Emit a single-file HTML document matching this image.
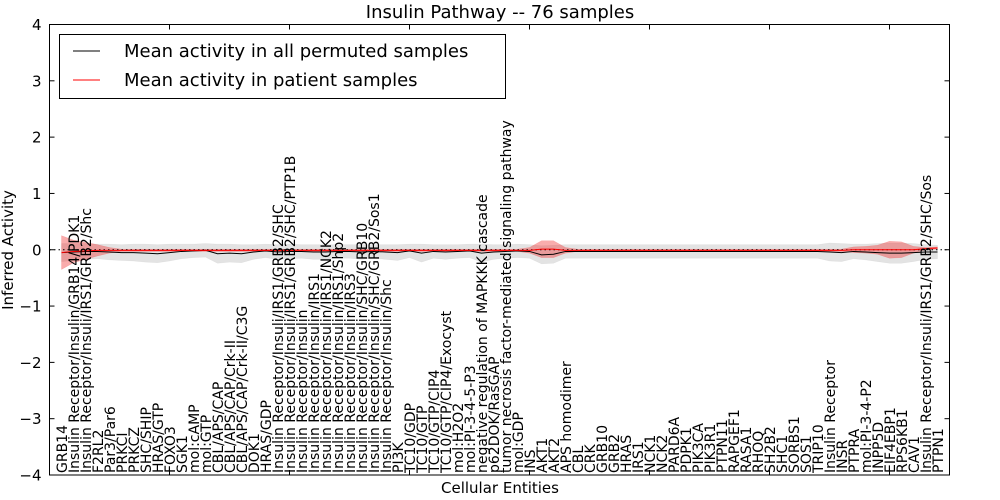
<!DOCTYPE html>
<html><head><meta charset="utf-8"><style>
body{margin:0;background:#fff}
svg{display:block;font-family:"DejaVu Sans","Liberation Sans",sans-serif}
</style></head><body>
<svg id="chart" width="1000" height="500" viewBox="0 0 1000 500">
<rect width="1000" height="500" fill="#fff"/>
<text x="500" y="18" text-anchor="middle" font-size="18">Insulin Pathway -- 76 samples</text>
<g id="bands"></g>
<g id="lines"></g>
<g id="labels"></g>
<g id="axes"></g>
<text x="500" y="493" text-anchor="middle" font-size="15">Cellular Entities</text>
<text transform="translate(13,250) rotate(-90)" text-anchor="middle" font-size="15">Inferred Activity</text>
<g>
<rect x="59.5" y="34.5" width="446" height="64" fill="#fff" stroke="#000" stroke-width="1"/>
<line x1="73" y1="51" x2="100" y2="51" stroke="#000"/>
<text x="124" y="57" font-size="18">Mean activity in all permuted samples</text>
<line x1="73" y1="80" x2="100" y2="80" stroke="#f00"/>
<text x="124" y="86" font-size="18">Mean activity in patient samples</text>
</g>
</svg>
<script>
const categories = ["GRB14","Insulin Receptor/Insulin/GRB14/PDK1","Insulin Receptor/Insuli/IRS1/GRB2/Shc","F2RL2","Par3/Par6","PRKCI","PRKCZ","SHC/SHIP","HRAS/GTP","FOXO3","SGK1","mol:cAMP","mol:GTP","CBL/APS/CAP","CBL/APS/CAP/Crk-II","CBL/APS/CAP/Crk-II/C3G","DOK1","HRAS/GDP","Insulin Receptor/Insuli/IRS1/GRB2/SHC","Insulin Receptor/Insuli/IRS1/GRB2/SHC/PTP1B","Insulin Receptor/Insulin","Insulin Receptor/Insulin/IRS1","Insulin Receptor/Insulin/IRS1/NCK2","Insulin Receptor/Insulin/IRS1/Shp2","Insulin Receptor/Insulin/IRS3","Insulin Receptor/Insulin/SHC/GRB10","Insulin Receptor/Insulin/SHC/GRB2/Sos1","Insulin Receptor/Insulin/Shc","PI3K","TC10/GDP","TC10/GTP","TC10/GTP/CIP4","TC10/GTP/CIP4/Exocyst","mol:H2O2","mol:PI-3-4-5-P3","negative regulation of MAPKKK cascade","p62DOK/RasGAP","tumor necrosis factor-mediated signaling pathway","mol:GDP","INS","AKT1","AKT2","APS homodimer","CBL","CRK","GRB10","GRB2","HRAS","IRS1","NCK1","NCK2","PARD6A","PDPK1","PIK3CA","PIK3R1","PTPN11","RAPGEF1","RASA1","RHOQ","SH2B2","SHC1","SORBS1","SOS1","TRIP10","Insulin Receptor","INSR","PTPRA","mol:PI-3-4-P2","INPP5D","EIF4EBP1","RPS6KB1","CAV1","Insulin Receptor/Insuli/IRS1/GRB2/SHC/Sos","PTPN1"];
const permMean = [-0.05,-0.04,-0.03,-0.03,-0.04,-0.05,-0.05,-0.06,-0.07,-0.05,-0.03,-0.02,-0.01,-0.07,-0.06,-0.07,-0.04,-0.02,-0.04,-0.03,-0.03,-0.04,-0.04,-0.03,-0.03,-0.04,-0.03,-0.04,-0.05,-0.02,-0.06,-0.03,-0.04,-0.03,-0.02,-0.06,-0.04,-0.03,-0.02,-0.03,-0.09,-0.08,-0.03,-0.03,-0.03,-0.03,-0.03,-0.03,-0.03,-0.03,-0.03,-0.03,-0.03,-0.03,-0.03,-0.03,-0.03,-0.03,-0.03,-0.03,-0.03,-0.03,-0.03,-0.03,-0.04,-0.05,-0.03,-0.04,-0.05,-0.06,-0.06,-0.05,-0.04,-0.04];
const permStd = [0.16,0.15,0.14,0.13,0.14,0.14,0.15,0.16,0.16,0.15,0.13,0.12,0.12,0.17,0.16,0.16,0.13,0.12,0.13,0.13,0.12,0.13,0.13,0.12,0.12,0.13,0.12,0.13,0.14,0.12,0.16,0.12,0.13,0.12,0.12,0.16,0.13,0.12,0.12,0.12,0.16,0.16,0.12,0.12,0.12,0.12,0.12,0.12,0.12,0.12,0.12,0.12,0.12,0.12,0.12,0.12,0.12,0.12,0.12,0.12,0.12,0.12,0.12,0.12,0.16,0.16,0.13,0.14,0.16,0.18,0.18,0.16,0.13,0.12];
const patMean = [-0.05,-0.03,-0.02,-0.01,-0.01,-0.01,-0.01,-0.01,-0.01,-0.01,-0.01,-0.01,-0.01,-0.01,-0.01,-0.01,-0.01,-0.01,-0.01,-0.01,-0.01,-0.01,-0.01,-0.01,-0.01,-0.01,-0.01,-0.01,-0.01,-0.01,-0.01,-0.01,-0.01,-0.01,-0.01,-0.01,-0.01,-0.01,-0.01,-0.01,0.01,0.01,-0.01,-0.01,-0.01,-0.01,-0.01,-0.01,-0.01,-0.01,-0.01,-0.01,-0.01,-0.01,-0.01,-0.01,-0.01,-0.01,-0.01,-0.01,-0.01,-0.01,-0.01,-0.01,-0.01,-0.01,0.0,0.0,0.0,0.0,0.0,0.0,0.02,0.03];
const patStd = [0.3,0.2,0.15,0.1,0.05,0.02,0.02,0.02,0.02,0.02,0.02,0.02,0.02,0.02,0.02,0.02,0.02,0.02,0.02,0.02,0.02,0.02,0.02,0.02,0.02,0.02,0.02,0.02,0.02,0.02,0.02,0.02,0.02,0.02,0.02,0.02,0.02,0.02,0.02,0.05,0.15,0.15,0.05,0.02,0.02,0.02,0.02,0.02,0.02,0.02,0.02,0.02,0.02,0.02,0.02,0.02,0.02,0.02,0.02,0.02,0.02,0.02,0.02,0.02,0.02,0.02,0.05,0.06,0.08,0.15,0.14,0.06,0.02,0.02];
const yTicks = [4,3,2,1,0,-1,-2,-3,-4];
const xTicks = [0,10,20,30,40,50,60,70];

const NS="http://www.w3.org/2000/svg";
const L=49.5,R=949.5,T=24.5,B=475;
const xs=v=>L+(v)*(R-L)/75;
const ys=v=>T+(4-v)*(B-T)/8;
function mk(tag,attrs,parent){const e=document.createElementNS(NS,tag);for(const k in attrs)e.setAttribute(k,attrs[k]);parent.appendChild(e);return e;}
const bands=document.getElementById('bands'),lines=document.getElementById('lines'),labels=document.getElementById('labels'),axes=document.getElementById('axes');
function band(mean,sd,fill,op,name){
  let up=mean.map((m,i)=>xs(i+1)+','+ys(m+sd[i]));
  let dn=mean.map((m,i)=>xs(i+1)+','+ys(m-sd[i])).reverse();
  const p=mk('polygon',{points:up.concat(dn).join(' '),fill:fill,'fill-opacity':op,stroke:fill,'stroke-opacity':op*0.6,'stroke-width':0.5},bands);
  
  
}
band(permMean,permStd,'#b0b0b0',0.35,'permuted-band');
band(patMean,patStd,'#f03030',0.4,'patient-band');
const z=mk('line',{x1:L,x2:R,y1:ys(0),y2:ys(0),stroke:'#000','stroke-dasharray':'1.5,3','stroke-width':1},lines);


function line(arr,color,name){
  const p=mk('polyline',{points:arr.map((m,i)=>xs(i+1)+','+ys(m)).join(' '),fill:'none',stroke:color,'stroke-width':1},lines);
  
  
}
line(permMean,'#000','permuted-mean-line');
line(patMean,'#f00','patient-mean-line');
categories.forEach((c,i)=>{
  const x=xs(i+1)+5.5;
  const t=mk('text',{x:x,y:473,transform:`rotate(-90 ${x} 473)`,'font-size':14},labels);
  t.textContent=c;
  
  
});
const fr=mk('rect',{x:L,y:T,width:R-L,height:B-T,fill:'none',stroke:'#000','stroke-width':1},axes);


yTicks.forEach(v=>{
  const y=ys(v);
  mk('line',{x1:L,x2:L+5,y1:y,y2:y,stroke:'#000'},axes);
  mk('line',{x1:R-5,x2:R,y1:y,y2:y,stroke:'#000'},axes);
  const t=mk('text',{x:L-8,y:y+5.5,'text-anchor':'end','font-size':15},axes);
  t.textContent=(v<0?'\u2212'+(-v):String(v));
  
  
});
xTicks.forEach(v=>{
  const x=xs(v);
  mk('line',{x1:x,x2:x,y1:T,y2:T+5,stroke:'#000'},axes);
  mk('line',{x1:x,x2:x,y1:B-5,y2:B,stroke:'#000'},axes);
});
</script>
</body></html>
